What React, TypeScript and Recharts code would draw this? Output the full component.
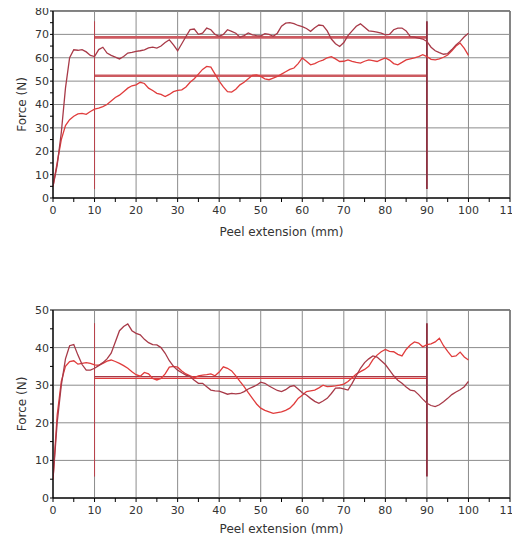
import { LineChart, Line, XAxis, YAxis, ReferenceLine, ReferenceArea } from 'recharts'

// peel extension, mm (same sampling for all four curves)
const EXT = Array.from({ length: 101 }, (_, i) => i)

const TOP_A = [
  5, 14, 28, 47, 60, 63.4, 63.2, 63.5, 62.5, 61, 60.5, 63.5, 64.5, 62, 61, 60.3, 59.5, 60.5, 62, 62.3,
  62.7, 63, 63.4, 64.2, 64.5, 64.1, 65, 66.5, 67.7, 65.5, 63, 66, 69.1, 72, 72.3, 70, 70.5, 72.7, 72, 70,
  69.2, 70, 72, 71.3, 70.5, 68.8, 69.5, 70.6, 69.8, 69.5, 69.3, 70.3, 70, 69.2, 70.5, 73.5, 74.8, 75, 74.6, 73.8,
  73.3, 72.5, 71.3, 72.8, 74, 73.8, 71.5, 68, 66, 64.8, 66.5, 69.5, 71.5, 73.5, 74.5, 73, 71.5, 71.3, 71, 70.5,
  69.8, 70, 72, 72.7, 72.7, 71.5, 69, 68.8, 68.4, 68, 67, 64.5, 63, 62.2, 61.5, 61.8, 63.5, 65.5, 67, 69, 70.5,
]
const TOP_B = [
  5, 15, 25, 31, 33.5, 35, 36, 36.2, 35.8, 37, 38, 38.5, 39.1, 40, 41.5, 43, 44, 45.5, 47, 48,
  48.4, 49.5, 49, 47, 46, 44.8, 44.3, 43.4, 44.3, 45.5, 46, 46.3, 47.5, 49.5, 51, 53, 55, 56.3, 56, 53,
  50, 47.5, 45.5, 45.3, 46.5, 48.4, 49.5, 51, 52.5, 52.7, 52, 51, 50.6, 51.3, 52, 53, 54, 55, 55.6, 57.5,
  59.9, 58.5, 57, 57.5, 58.4, 59, 60, 60.5, 59.5, 58.4, 58.5, 59.1, 58.5, 58, 57.7, 58.5, 59.1, 58.8, 58.4, 59.2,
  59.9, 59, 57.5, 57, 58, 59.1, 59.5, 59.9, 60.5, 61.3, 60.5, 59.3, 59.1, 59.5, 60.2, 61.2, 63, 65, 66.3, 64, 61,
]
const TOP_AVG = [68.7, 52.3]

const BOT_A = [
  5, 20, 30, 37, 40.5, 40.8, 38, 35.5, 34, 34, 34.5, 35.2, 36, 37, 38.5, 41.5, 44.5, 45.6, 46.3, 44.5,
  43.8, 43.4, 42.2, 41.3, 40.8, 40.7, 40, 38.5, 36.5, 35, 34, 33.3, 32.7, 32.3, 31.3, 30.5, 30.5, 29.6, 28.7, 28.5,
  28.4, 28, 27.6, 27.8, 27.7, 27.8, 28.3, 29, 29.5, 30, 30.8, 30.5, 29.8, 29.2, 28.6, 28.3, 28.8, 29.6, 29.9, 29,
  28, 27.4, 26.5, 25.7, 25.2, 25.8, 26.5, 27.8, 29.2, 29.3, 29, 28.7, 30.5, 32.5, 34.5, 36, 37, 37.8, 37.5, 36.5,
  35.5, 34, 32.5, 31.3, 30.5, 29.5, 28.7, 28.5, 27.5, 26.3, 25.2, 24.6, 24.3, 24.8, 25.6, 26.5, 27.5, 28.2, 28.8, 29.6, 31,
]
const BOT_B = [
  5, 22, 31, 35, 36.3, 36.5, 35.6, 35.8, 36, 35.8, 35.4, 35.3, 35.8, 36.4, 36.7, 36.3, 35.8, 35.2, 34.5, 33.6,
  32.8, 32.4, 33.4, 33, 31.8, 31.4, 31.8, 33, 34.8, 35, 34.8, 33.8, 33, 32.5, 32, 32.5, 32.7, 32.8, 33, 32.5,
  33.5, 34.9, 34.5, 33.8, 32.5, 31, 29.6, 28, 26.5, 25, 23.9, 23.3, 22.9, 22.5, 22.7, 22.9, 23.3, 23.9, 25, 26.5,
  27.3, 28.3, 28.5, 28.7, 29.3, 30, 29.6, 29.7, 29.8, 30, 30.3, 31, 32, 33, 33.6, 34.2, 35, 36.8, 38, 38.9,
  39.5, 39, 38.9, 38.2, 37.8, 39.5, 40.7, 41.5, 41.2, 40.2, 40.8, 41, 41.5, 42.5, 40.5, 39, 37.6, 37.8, 38.8, 37.5, 36.7,
]
const BOT_AVG = [32.3, 31.8]

// test window start/end markers
const WINDOW = [10, 90]
const TOP_MARK = [3.8, 75.6]
const BOT_MARK = [5.7, 46.5]

const X_TICKS = Array.from({ length: 23 }, (_, i) => i * 5)
const X_GRID = Array.from({ length: 11 }, (_, i) => i * 10 + 10)

const DARK = '#a83a48'
const BRIGHT = '#e03c3c'
const GRID = '#8c8c8c'
const FONT = '"DejaVu Sans", Verdana, sans-serif'

function rows(a: number[], b: number[]) {
  return EXT.map((x, i) => ({ x, a: a[i], b: b[i] }))
}

function every5(max: number) {
  return Array.from({ length: max / 5 + 1 }, (_, i) => i * 5)
}
function every10(max: number) {
  return Array.from({ length: max / 10 }, (_, i) => i * 10 + 10)
}

const only10 = (v: number) => (v % 10 === 0 ? String(v) : '')

interface PeelProps {
  a: number[]
  b: number[]
  yMax: number
  height: number
  top: number
  axisH: number
  avgs: number[]
  avgDouble: boolean
  mark: number[]
}

function PeelChart({ a, b, yMax, height, top, axisH, avgs, avgDouble, mark }: PeelProps) {
  const tick = { fontSize: 11, fill: '#333', fontFamily: FONT }
  const yGrid = every10(yMax)
  return (
    <LineChart
      width={520}
      height={height}
      data={rows(a, b)}
      margin={{ top, right: 10, bottom: 0, left: 0 }}
      style={{ overflow: 'visible' }}
    >
      <XAxis
        dataKey="x"
        type="number"
        domain={[0, 110]}
        ticks={X_TICKS}
        interval={0}
        tickFormatter={only10}
        tick={tick}
        tickSize={4}
        tickMargin={4}
        stroke="#000"
        height={axisH}
        allowDataOverflow
        label={{ value: 'Peel extension (mm)', position: 'insideBottom', offset: 9, fontSize: 12, fill: '#333', fontFamily: FONT }}
      />
      <YAxis
        type="number"
        domain={[0, yMax]}
        ticks={every5(yMax)}
        interval={0}
        tickFormatter={only10}
        tick={tick}
        tickSize={3}
        tickMargin={1}
        stroke="#000"
        width={53}
        allowDataOverflow
        label={{ value: 'Force (N)', angle: -90, position: 'insideLeft', offset: 22, fontSize: 12, fill: '#333', fontFamily: FONT, style: { textAnchor: 'middle' } }}
      />
      {/* horizontal grid drawn as flat two-point lines */}
      {yGrid.map((v) => (
        <Line
          key={'gy' + v}
          data={[{ x: 0, g: v }, { x: 110, g: v }]}
          dataKey="g"
          stroke={GRID}
          strokeWidth={1}
          dot={false}
          activeDot={false}
          legendType="none"
          isAnimationActive={false}
        />
      ))}
      {X_GRID.map((v) => (
        <ReferenceLine key={'gx' + v} segment={[{ x: v, y: 0 }, { x: v, y: yMax }]} stroke={GRID} strokeWidth={1} />
      ))}
      <ReferenceArea x1={0} x2={110} y1={0} y2={yMax} fill="none" stroke="#000" strokeWidth={1} fillOpacity={0} />
      {avgs.map((v, i) =>
        avgDouble ? (
          <ReferenceLine key={i} segment={[{ x: WINDOW[0], y: v }, { x: WINDOW[1], y: v }]} stroke="#cc5a60" strokeWidth={2.6} />
        ) : (
          <ReferenceLine key={i} segment={[{ x: WINDOW[0], y: v }, { x: WINDOW[1], y: v }]} stroke={i === 0 ? DARK : BRIGHT} strokeWidth={1.2} />
        )
      )}
      <ReferenceLine segment={[{ x: WINDOW[0], y: mark[0] }, { x: WINDOW[0], y: mark[1] }]} stroke="#b8404a" strokeWidth={1} />
      <ReferenceLine segment={[{ x: WINDOW[1], y: mark[0] }, { x: WINDOW[1], y: mark[1] }]} stroke="#8e3040" strokeWidth={1.8} />
      <Line dataKey="b" stroke={BRIGHT} strokeWidth={1.3} dot={false} isAnimationActive={false} />
      <Line dataKey="a" stroke={DARK} strokeWidth={1.3} dot={false} isAnimationActive={false} />
    </LineChart>
  )
}

export default function App() {
  return (
    <div style={{ margin: -8, width: 520, fontFamily: FONT }}>
      <PeelChart a={TOP_A} b={TOP_B} yMax={80} height={245} top={11} axisH={47} avgs={TOP_AVG} avgDouble mark={TOP_MARK} />
      <PeelChart a={BOT_A} b={BOT_B} yMax={50} height={297} top={65} axisH={44} avgs={BOT_AVG} avgDouble={false} mark={BOT_MARK} />
    </div>
  )
}
